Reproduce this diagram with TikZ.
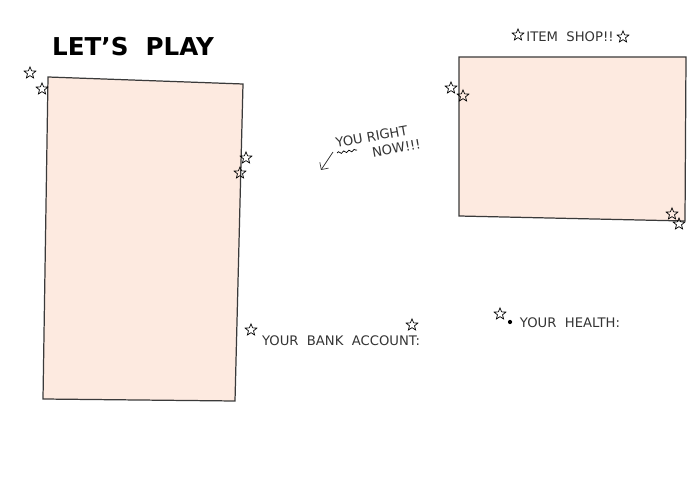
\documentclass[tikz,border=0pt]{standalone}
\usepackage{fontspec}
\setmainfont{DejaVu Sans}
\usetikzlibrary{arrows.meta, shapes.geometric, decorations.pathmorphing}
\definecolor{peach}{HTML}{FDEAE0}
\definecolor{pen}{HTML}{3A3A3A}
\tikzset{board/.style = {draw = pen, fill = peach, line width = 0.7pt}}
\tikzset{sparkle/.style = {star, star points = 5, star point ratio = 2.3, draw = black, thin, inner sep = 0pt, minimum size = 7pt}}
\tikzset{scribble/.style = {font = \fontsize{7.5}{9}\selectfont, text = black!80, inner sep = 1pt}}
\tikzset{edge/.style = {-{Straight Barb[length = 3pt]}, thin, black!80}}

\begin{document}
\begin{tikzpicture}[x = 0.02cm, y = -0.02cm]
	\useasboundingbox (0, 0) rectangle (700, 486);

	% the two boards
	\draw[board] (48, 77) -- (243, 84) -- (235, 401) -- (43, 399) -- cycle;
	\draw[board] (459, 57) -- (686, 57) -- (685, 221) -- (459, 216) -- cycle;

	\node[font = \fontsize{14}{16}\selectfont\bfseries] (title) at (133, 47) {LET'S\ \ PLAY};

	% labels
	\node[scribble, rotate = 10, anchor = west, align = left] (you) at (335, 151) {YOU RIGHT\\\hspace*{2.6em}NOW!!!};
	\coordinate (here) at (321, 170);
	\draw[edge] (333, 152) -- (here);
	\draw[thin, decorate, decoration = {snake, amplitude = 0.6pt, segment length = 3pt}] (337, 153) -- (357, 150);

	\node[scribble] (bank) at (341, 341) {YOUR\ \ BANK\ \ ACCOUNT:};
	\node[scribble] (health) at (570, 323) {YOUR\ \ HEALTH:};
	\node[scribble] (shop) at (570, 37) {ITEM\ \ SHOP!!};

	% stars
	\node[sparkle] (s1) at (30, 73) {};
	\node[sparkle] (s2) at (42, 89) {};
	\node[sparkle] (s3) at (246, 158) {};
	\node[sparkle] (s4) at (240, 173) {};
	\node[sparkle] (s5) at (451, 88) {};
	\node[sparkle] (s6) at (463, 96) {};
	\node[sparkle] (s7) at (672, 214) {};
	\node[sparkle] (s8) at (679, 224) {};
	\node[sparkle] (s9) at (251, 330) {};
	\node[sparkle] (s10) at (412, 325) {};
	\node[sparkle] (s11) at (500, 314) {};
	\node[sparkle] (s12) at (518, 35) {};
	\node[sparkle] (s13) at (623, 37) {};
	\fill (510, 322) circle (1.2pt);
\end{tikzpicture}
\end{document}
